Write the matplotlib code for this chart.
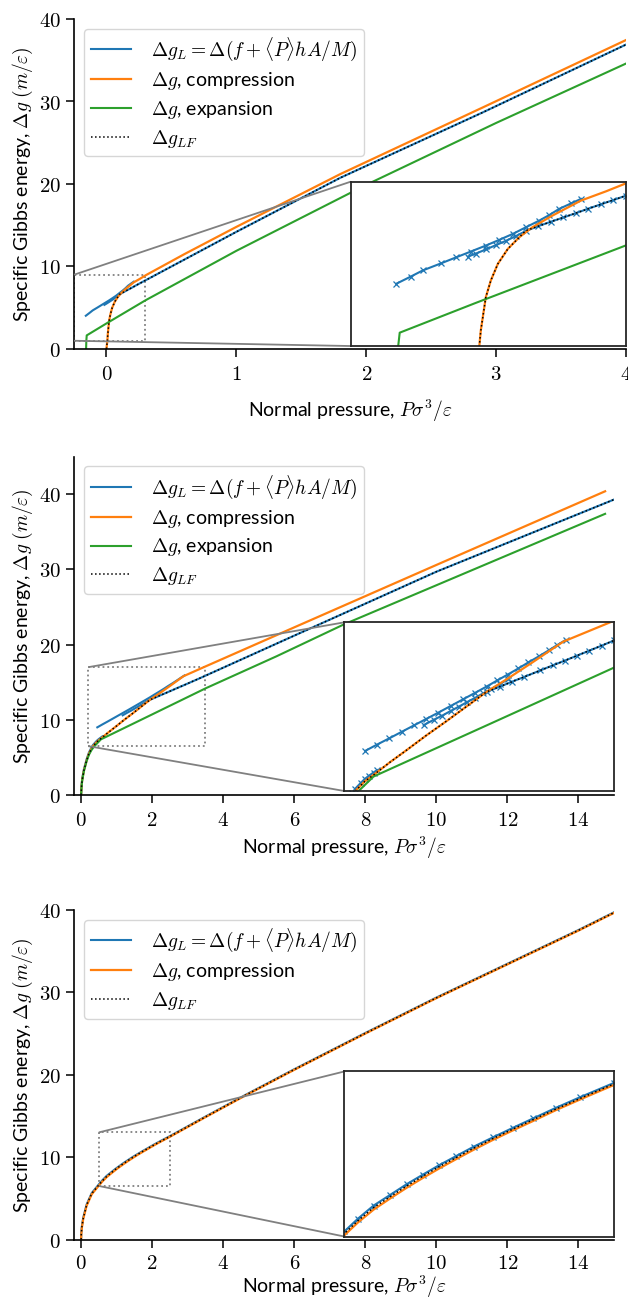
import matplotlib
matplotlib.use("Agg")
import matplotlib.pyplot as plt
from matplotlib.ticker import FuncFormatter
from mpl_toolkits.axes_grid1.inset_locator import mark_inset

plt.rcParams['font.family'] = ['Lato', 'DejaVu Sans']
plt.rcParams['mathtext.fontset'] = 'cm'
plt.rcParams['font.size'] = 14

BLUE = '#1f77b4'
ORANGE = '#ff7f0e'
GREEN = '#2ca02c'

# ---- panel 1 ----
p1_blue_a_x = [-0.159, -0.13, -0.106, -0.07, -0.039, -0.01, 0.020, 0.047, 0.074, 0.10, 0.127, 0.147, 0.166, 0.19, 0.21]
p1_blue_a_y = [4.03, 4.38, 4.68, 5.02, 5.32, 5.6, 5.89, 6.17, 6.46, 6.78, 7.11, 7.38, 7.67, 7.94, 8.16]
p1_blue_b_x = [-0.016, 0.0, 0.02, 0.04, 0.06, 0.08, 0.10, 0.125, 0.15, 0.175, 0.2, 0.225, 0.25, 0.275, 0.3, 0.5, 1.0, 1.8, 2.9, 4.0]
p1_blue_b_y = [5.35, 5.5, 5.7, 5.91, 6.12, 6.35, 6.6, 6.84, 7.05, 7.26, 7.47, 7.69, 7.9, 8.11, 8.32, 10.0, 14.2, 20.75, 28.7, 36.9]
p1_orange_x = [0.0, 0.003, 0.007, 0.010, 0.015, 0.020, 0.030, 0.044, 0.064, 0.087, 0.113, 0.153, 0.21, 0.26, 0.3, 0.6, 1.0, 1.8, 2.9, 4.0]
p1_orange_y = [0.0, 0.5, 1.0, 1.76, 2.57, 3.38, 4.19, 5.0, 5.73, 6.30, 6.78, 7.35, 8.08, 8.53, 8.92, 11.5, 14.8, 21.2, 29.3, 37.45]
p1_green_x = [-0.157, -0.155, -0.152, 0.0, 0.15, 0.3, 1.0, 2.0, 3.0, 4.0]
p1_green_y = [0.0, 1.0, 1.65, 3.1, 4.5, 5.9, 11.9, 19.9, 27.4, 34.6]
p1_lf_x = [0.0, 0.003, 0.007, 0.010, 0.015, 0.020, 0.030, 0.044, 0.064, 0.087, 0.10, 0.15, 0.2, 0.25, 0.3, 0.5, 1.0, 1.8, 2.9, 4.0]
p1_lf_y = [0.0, 0.5, 1.0, 1.76, 2.57, 3.38, 4.19, 5.0, 5.73, 6.30, 6.62, 7.05, 7.47, 7.9, 8.32, 10.0, 14.2, 20.75, 28.7, 36.9]

# ---- panel 2 ----
p2_blue_a_x = [0.0, 0.01, 0.03, 0.08, 0.155, 0.22, 0.295, 0.334, 0.40, 0.45, 0.50, 0.557, 0.6]
p2_blue_a_y = [0.0, 1.1, 2.15, 3.45, 4.75, 5.65, 6.35, 6.65, 7.0, 7.25, 7.45, 7.65, 7.8]
p2_blue_b_x = [0.456, 0.6, 0.75, 0.9, 1.05, 1.2, 1.35, 1.5, 1.65, 1.8, 1.94, 2.07, 2.2, 2.33, 2.45, 2.58, 2.7, 2.8, 2.91]
p2_blue_b_y = [9.0, 9.39, 9.78, 10.18, 10.58, 10.98, 11.38, 11.79, 12.2, 12.61, 13.0, 13.38, 13.75, 14.13, 14.5, 14.88, 15.25, 15.57, 15.9]
p2_blue_c_x = [1.17, 1.3, 1.4, 1.5, 1.6, 1.7, 1.8, 1.9, 2.0, 2.1, 2.2]
p2_blue_c_y = [10.6, 10.95, 11.2, 11.48, 11.75, 12.03, 12.3, 12.58, 12.85, 13.15, 13.45]
p2_blue_d_x = [1.94, 2.1, 2.25, 2.4, 2.6, 2.75, 2.9, 3.05, 3.2, 3.35, 3.5, 6.0, 10.0, 15.0]
p2_blue_d_y = [12.67, 12.99, 13.3, 13.6, 14.01, 14.32, 14.62, 14.93, 15.24, 15.55, 15.87, 21.2, 29.7, 39.3]
p2_orange_x = [0.0, 0.01, 0.03, 0.08, 0.155, 0.22, 0.295, 0.334, 0.45, 0.557, 0.76, 0.963, 1.2, 1.45, 1.7, 1.94, 2.2, 2.5, 2.88, 3.5, 6.0, 10.0, 14.75]
p2_orange_y = [0.0, 1.0, 2.0, 3.3, 4.6, 5.5, 6.2, 6.5, 7.1, 7.5, 8.3, 9.05, 9.95, 10.85, 11.78, 12.67, 13.5, 14.5, 15.8, 17.1, 22.3, 30.6, 40.4]
p2_green_x = [0.0, 0.01, 0.03, 0.08, 0.155, 0.22, 0.295, 0.375, 0.557, 1.0, 2.0, 3.5, 5.5, 7.4, 10.0, 12.5, 14.75]
p2_green_y = [0.0, 0.95, 1.9, 3.2, 4.5, 5.35, 6.0, 6.5, 7.4, 8.42, 10.72, 14.18, 18.45, 22.7, 27.9, 32.9, 37.4]
p2_lf_x = [0.0, 0.01, 0.03, 0.08, 0.155, 0.22, 0.295, 0.334, 0.45, 0.557, 0.76, 0.963, 1.2, 1.45, 1.7, 1.94, 2.4, 2.9, 3.5, 6.0, 10.0, 15.0]
p2_lf_y = [0.0, 1.0, 2.0, 3.3, 4.6, 5.5, 6.2, 6.5, 7.1, 7.5, 8.3, 9.05, 9.95, 10.85, 11.78, 12.67, 13.6, 14.62, 15.87, 21.2, 29.7, 39.3]

# ---- panel 3 ----
p3_x = [0.0, 0.005, 0.02, 0.06, 0.155, 0.3, 0.5, 0.6, 0.717, 0.84, 0.962, 1.08, 1.2, 1.33, 1.46, 1.6, 1.75, 1.9, 2.07, 2.25, 2.5, 3.5, 4.59, 6.0, 8.0, 10.0, 12.0, 14.0, 15.0]
p3_orange_y = [0.0, 0.6, 1.4, 2.5, 4.1, 5.5, 6.55, 7.05, 7.56, 8.0, 8.42, 8.8, 9.17, 9.55, 9.92, 10.3, 10.68, 11.05, 11.48, 11.9, 12.47, 14.85, 17.4, 20.6, 25.0, 29.3, 33.4, 37.5, 39.65]
p3_blue_y = [0.1, 0.75, 1.55, 2.65, 4.25, 5.65, 6.7, 7.2, 7.72, 8.14, 8.56, 8.93, 9.3, 9.67, 10.04, 10.4, 10.78, 11.15, 11.57, 11.99, 12.55, 14.92, 17.47, 20.67, 25.07, 29.37, 33.47, 37.57, 39.72]
p3_lf_y = [0.0, 0.68, 1.48, 2.58, 4.18, 5.58, 6.62, 7.12, 7.64, 8.07, 8.49, 8.87, 9.24, 9.61, 9.98, 10.35, 10.73, 11.1, 11.52, 11.94, 12.51, 14.88, 17.43, 20.63, 25.03, 29.33, 33.43, 37.53, 39.68]

LABEL_L = r'$\Delta g_L = \Delta(f + \langle P\rangle hA/M)$'
LABEL_C = r'$\Delta g$, compression'
LABEL_E = r'$\Delta g$, expansion'
LABEL_LF = r'$\Delta g_{LF}$'

W, H = 628, 1299
fig = plt.figure(figsize=(W / 100, H / 100), dpi=100)


def frac(left, top, right, bottom):
  return [left / W, 1 - bottom / H, (right - left) / W, (bottom - top) / H]


def draw_lines(ax, blues, orange, green, lf, inset=False):
  mk = dict(marker='x', markersize=4, markeredgewidth=0.9) if inset else {}
  for i, (bx, by) in enumerate(blues):
    ax.plot(bx, by, color=BLUE, lw=1.5, label=LABEL_L if i == 0 else None, **mk)
  ax.plot(orange[0], orange[1], color=ORANGE, lw=1.6, label=LABEL_C)
  if green is not None:
    ax.plot(green[0], green[1], color=GREEN, lw=1.5, label=LABEL_E)
  ax.plot(lf[0], lf[1], color='k', ls=':', lw=1.1, label=LABEL_LF)


def draw_panel(pos, xlim, ylim, xticks, blues, orange, green, lf, inset_rect, zoom_xlim, zoom_ylim, xpad, tpad):
  ax = fig.add_axes(pos)
  draw_lines(ax, blues, orange, green, lf)
  ax.set_xlim(*xlim)
  ax.set_ylim(*ylim)
  ax.set_xticks(xticks)
  ax.set_yticks([0, 10, 20, 30, 40])
  fmt = FuncFormatter(lambda v, p: '$%g$' % v)
  ax.xaxis.set_major_formatter(fmt)
  ax.yaxis.set_major_formatter(fmt)
  ax.tick_params(length=6, width=1.1, labelsize=15)
  ax.tick_params(axis='x', pad=tpad)
  for s in ['top', 'right']:
    ax.spines[s].set_visible(False)
  for s in ['left', 'bottom']:
    ax.spines[s].set_linewidth(1.2)
  ax.set_xlabel(r'Normal pressure, $P\sigma^3/\varepsilon$', fontsize=14, labelpad=xpad)
  ax.set_ylabel(r'Specific Gibbs energy, $\Delta g$ $(m/\varepsilon)$', fontsize=14, labelpad=3)
  ax.legend(loc='upper left', fontsize=14, handlelength=2.1, handletextpad=1.0,
            labelspacing=0.35, borderpad=0.35)

  axins = ax.inset_axes(inset_rect, transform=ax.transData)
  draw_lines(axins, blues, orange, green, lf, inset=True)
  axins.set_xlim(*zoom_xlim)
  axins.set_ylim(*zoom_ylim)
  axins.set_xticks([])
  axins.set_yticks([])
  for s in axins.spines.values():
    s.set_color('0.15')
    s.set_linewidth(1.3)
  pp, c1, c2 = mark_inset(ax, axins, loc1=2, loc2=3, fc='none', ec='0.5', lw=1.3)
  pp.set_linestyle(':')
  return ax


draw_panel(frac(74, 19, 626, 349), (-0.25, 4.0), (0, 40), [0, 1, 2, 3, 4],
           [(p1_blue_a_x, p1_blue_a_y), (p1_blue_b_x, p1_blue_b_y)],
           (p1_orange_x, p1_orange_y), (p1_green_x, p1_green_y), (p1_lf_x, p1_lf_y),
           [1.88, 0.36, 2.12, 19.92], (-0.25, 0.3), (1, 9), 10, 5)

draw_panel(frac(74, 456.7, 614, 795), (-0.2, 15), (0, 45), [0, 2, 4, 6, 8, 10, 12, 14],
           [(p2_blue_a_x, p2_blue_a_y), (p2_blue_b_x, p2_blue_b_y), (p2_blue_c_x, p2_blue_c_y),
            (p2_blue_d_x, p2_blue_d_y)],
           (p2_orange_x, p2_orange_y), (p2_green_x, p2_green_y), (p2_lf_x, p2_lf_y),
           [7.41, 0.53, 7.59, 22.44], (0.2, 3.5), (6.5, 17), 3, 5)

draw_panel(frac(74, 910, 614, 1239.5), (-0.2, 15), (0, 40), [0, 2, 4, 6, 8, 10, 12, 14],
           [(p3_x, p3_blue_y)],
           (p3_x, p3_orange_y), None, (p3_x, p3_lf_y),
           [7.41, 0.36, 7.59, 20.04], (0.5, 2.5), (6.5, 13), 0.5, 4)

fig.savefig('out.png', dpi=100)
